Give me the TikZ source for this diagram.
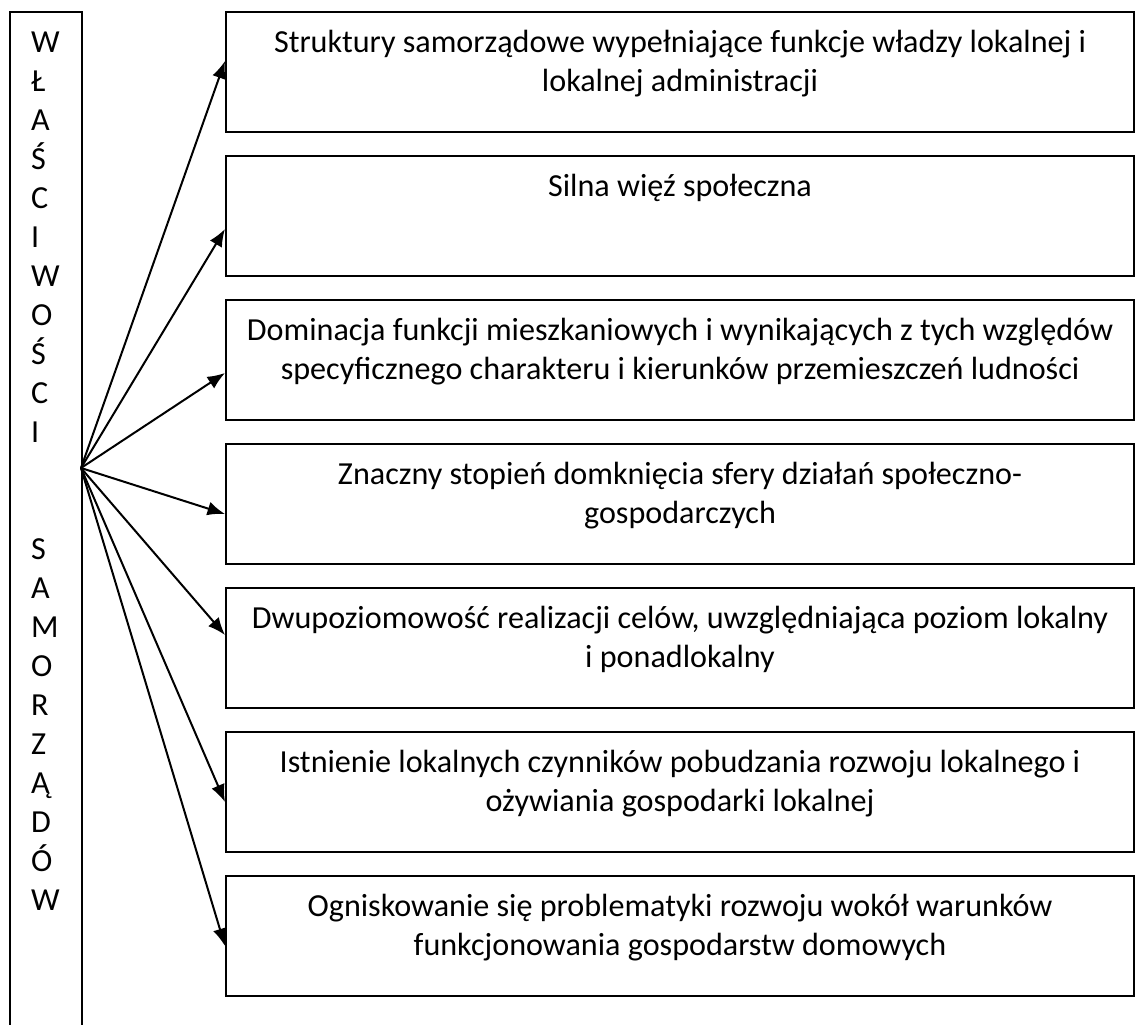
\documentclass[tikz,border=0pt]{standalone}
\usepackage{fontspec}
\setmainfont{Carlito}
\usetikzlibrary{positioning,arrows.meta}

\begin{document}
\begin{tikzpicture}[x=0.4pt,y=-0.4pt,
    itembox/.style={draw,line width=0.8pt,anchor=north west,inner sep=0pt,minimum width=363.2pt,minimum height=48pt},
    itemtext/.style={inner sep=0pt,align=center,font=\fontsize{12.85pt}{15.6pt}\selectfont},
    conn/.style={line width=0.8pt,-{Latex[length=7pt,width=5.6pt]}}]
          \clip (0,0) rectangle (1136,1025);
          % lewa kolumna
          \node[draw,line width=0.8pt,anchor=north west,inner sep=0pt,minimum width=28.8pt,minimum height=440pt] (props) at (9,11) {};
          \node[inner sep=0pt,align=left,font=\fontsize{12.85pt}{15.6pt}\selectfont,below right=5.5pt and 8.6pt of props.north west] (letters)
            {\strut W\\Ł\\A\\Ś\\C\\I\\W\\O\\Ś\\C\\I\\~\\~\\S\\A\\M\\O\\R\\Z\\Ą\\D\\Ó\\W};
          \coordinate (src) at (81,468);
          % prostokaty
          \node[itembox] (b1) at (225,11) {};
          \node[itembox] (b2) at (225,155) {};
          \node[itembox] (b3) at (225,299) {};
          \node[itembox] (b4) at (225,443) {};
          \node[itembox] (b5) at (225,587) {};
          \node[itembox] (b6) at (225,731) {};
          \node[itembox] (b7) at (225,875) {};
          \node[itemtext, below=5.5pt of b1.north] (t1) {\strut Struktury samorządowe wypełniające funkcje władzy lokalnej i\\lokalnej administracji};
          \node[itemtext, below=5.5pt of b2.north] (t2) {\strut Silna więź społeczna};
          \node[itemtext, below=5.5pt of b3.north] (t3) {\strut Dominacja funkcji mieszkaniowych i wynikających z tych względów\\specyficznego charakteru i kierunków przemieszczeń ludności};
          \node[itemtext, below=5.5pt of b4.north] (t4) {\strut Znaczny stopień domknięcia sfery działań społeczno-\\gospodarczych};
          \node[itemtext, below=5.5pt of b5.north] (t5) {\strut Dwupoziomowość realizacji celów, uwzględniająca poziom lokalny\\i ponadlokalny};
          \node[itemtext, below=5.5pt of b6.north] (t6) {\strut Istnienie lokalnych czynników pobudzania rozwoju lokalnego i\\ożywiania gospodarki lokalnej};
          \node[itemtext, below=5.5pt of b7.north] (t7) {\strut Ogniskowanie się problematyki rozwoju wokół warunków\\funkcjonowania gospodarstw domowych};
          % strzalki
          \draw[conn] (src) -- ([yshift=4.4pt]b1.west);
          \draw[conn] (src) -- ([yshift=-5.2pt]b2.west);
          \draw[conn] (src) -- ([yshift=-5.2pt]b3.west);
          \draw[conn] (src) -- ([yshift=-4pt]b4.west);
          \draw[conn] (src) -- ([yshift=5.2pt]b5.west);
          \draw[conn] (src) -- ([yshift=-4pt]b6.west);
          \draw[conn] (src) -- ([yshift=-4pt]b7.west);
        \end{tikzpicture}
\end{document}
